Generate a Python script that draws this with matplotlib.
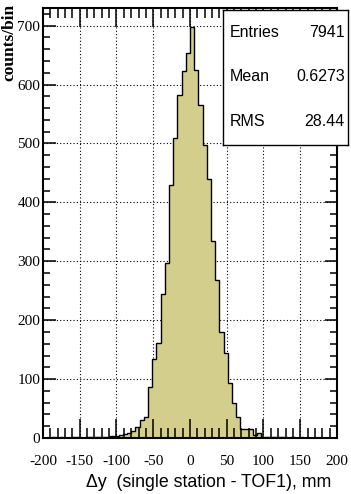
import numpy as np
import matplotlib
matplotlib.use("Agg")
import matplotlib.pyplot as plt
from matplotlib.ticker import MultipleLocator

plt.rcParams["axes.unicode_minus"] = False

# 70 bins spanning -200 .. 200 mm
x_min, x_max, n_bins = -200.0, 200.0, 70
counts = [
    0, 0, 1, 0, 1, 0, 0, 1, 1, 0, 1, 1, 1, 1, 2, 2, 3, 3, 5, 6,
    8, 12, 18, 30, 36, 87, 134, 162, 245, 297, 430, 509, 583, 623, 653,
    697, 625, 566, 498, 440, 335, 268, 180, 145, 94, 59, 35, 16, 15, 15,
    5, 8, 2, 1, 1, 1, 2, 1, 0, 1, 0, 1, 0, 0, 0, 0, 0, 0, 0, 0,
]
x_ticks = [-200, -150, -100, -50, 0, 50, 100, 150, 200]
y_ticks = [0, 100, 200, 300, 400, 500, 600, 700]
stats_labels = ["Entries", "Mean", "RMS"]
stats_values = ["7941", "0.6273", "28.44"]

edges = np.linspace(x_min, x_max, n_bins + 1)

fig = plt.figure(figsize=(3.51, 4.94), dpi=100)
ax = fig.add_axes([0.1225, 0.1134, 0.8375, 0.8704])

ax.stairs(counts, edges, fill=True, color="#d3ce8b", zorder=1)
ax.stairs(counts, edges, color="black", linewidth=1.0, zorder=2)

ax.set_xlim(x_min, x_max)
ax.set_ylim(0, 730)

# dotted grid underneath the histogram
for xv in x_ticks[1:-1]:
    ax.axvline(xv, color="black", linestyle=(0, (1, 2)), linewidth=0.8, zorder=0.5)
for yv in y_ticks[1:]:
    ax.axhline(yv, color="black", linestyle=(0, (1, 2)), linewidth=0.8, zorder=0.5)

ax.set_xticks(x_ticks)
ax.set_yticks(y_ticks)
ax.xaxis.set_minor_locator(MultipleLocator(10))
ax.yaxis.set_minor_locator(MultipleLocator(20))
ax.tick_params(which="both", direction="in", top=True, right=True,
               labelfontfamily="Liberation Serif", labelsize=11, width=1.1, color="black")
ax.tick_params(axis="x", which="major", length=14, pad=12)
ax.tick_params(axis="x", which="minor", length=7)
ax.tick_params(axis="y", which="major", length=9, pad=2)
ax.tick_params(axis="y", which="minor", length=5)
for s in ax.spines.values():
    s.set_linewidth(1.5)
    s.set_zorder(3)

fig.text(0.943, 0.024, "\u0394y  (single station - TOF1), mm", ha="right", va="center",
         family="Liberation Sans", fontsize=12.8)
fig.text(0.028, 0.992, "counts/bin", rotation=90, ha="center", va="top",
         family="Liberation Serif", fontweight="bold", fontsize=12.5)

# statistics box
box = fig.add_axes([223 / 351, 1 - 145 / 494, 125 / 351, 135 / 494], zorder=5)
box.set_xticks([])
box.set_yticks([])
box.set_xlim(0, 1)
box.set_ylim(0, 1)
for s in box.spines.values():
    s.set_linewidth(1.0)
rows_y = [1 - 23 / 135, 1 - 67 / 135, 1 - 111 / 135]
for lab, val, yy in zip(stats_labels, stats_values, rows_y):
    box.text(0.055, yy, lab, ha="left", va="center", family="Liberation Sans", fontsize=11.5)
    box.text(0.975, yy, val, ha="right", va="center", family="Liberation Sans", fontsize=11.5)

fig.savefig("out.png", dpi=100)
